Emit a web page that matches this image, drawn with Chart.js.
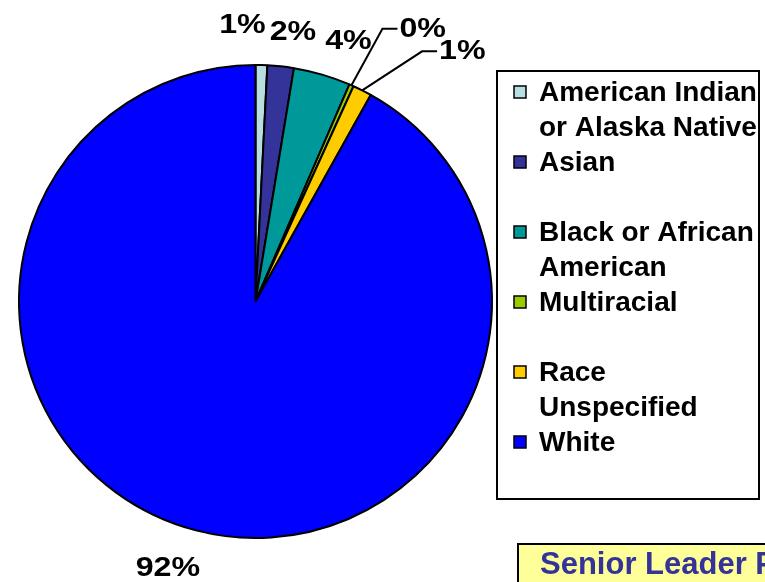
<!DOCTYPE html>
<html>
<head>
<meta charset="utf-8">
<script src="https://cdn.jsdelivr.net/npm/chart.js@4.4.1/dist/chart.umd.min.js"></script>
<style>
  html, body { margin: 0; padding: 0; background: #fff; }
  #wrap { width: 765px; height: 582px; position: relative; }
</style>
</head>
<body>
<div id="wrap"><canvas id="pie" width="765" height="582"></canvas></div>
<script>
// data (percent of senior leaders)
var categories = ['American Indian or Alaska Native', 'Asian', 'Black or African American',
                  'Multiracial', 'Race Unspecified', 'White'];
var shares = [0.8, 1.8, 3.9, 0.3, 1.3, 91.9];
var colors = ['#B7DEE0', '#333399', '#009999', '#99CC00', '#FFCC00', '#0000FF'];

var FONT = "'Liberation Sans', Arial, sans-serif";

// label tweaks: nudge from default spot, and whether to draw a leader line
var labelStyle = [
  { nudge: [-20, 0] },
  { nudge: [8, 6] },
  { nudge: [15, 5] },
  { nudge: [5, 2], leader: true },
  { nudge: [31, 18], leader: true },
  { nudge: [-18, -1] }
];

function wrap(ctx, text, maxW) {
  var words = text.split(' '), lines = [], cur = '';
  words.forEach(function (w) {
    var t = cur ? cur + ' ' + w : w;
    if (cur && ctx.measureText(t).width > maxW) { lines.push(cur); cur = w; }
    else cur = t;
  });
  lines.push(cur);
  return lines;
}

// the original labels are a bit wide, so stretch them sideways
function wideText(ctx, txt, x, y, align) {
  ctx.save();
  ctx.translate(x, y);
  ctx.scale(1.15, 1);
  ctx.textAlign = align;
  ctx.textBaseline = 'middle';
  ctx.fillText(txt, 0, 0);
  ctx.restore();
}

var pctLabels = {
  id: 'pctLabels',
  afterDatasetsDraw: function (chart) {
    var ctx = chart.ctx;
    var meta = chart.getDatasetMeta(0);
    var total = shares.reduce(function (a, b) { return a + b; }, 0);
    ctx.save();
    ctx.font = 'bold 28px ' + FONT;
    ctx.fillStyle = '#000';
    ctx.strokeStyle = '#000';
    ctx.lineWidth = 2;
    meta.data.forEach(function (arc, i) {
      var p = arc.getProps(['x', 'y', 'startAngle', 'endAngle', 'outerRadius'], true);
      var mid = (p.startAngle + p.endAngle) / 2;
      var st = labelStyle[i];
      var txt = Math.round(shares[i] / total * 100) + '%';
      if (st.leader) {
        var ex = p.x + Math.cos(mid) * (p.outerRadius + 64) + st.nudge[0];
        var ey = p.y + Math.sin(mid) * (p.outerRadius + 64) + st.nudge[1];
        ctx.beginPath();
        ctx.moveTo(p.x + Math.cos(mid) * p.outerRadius, p.y + Math.sin(mid) * p.outerRadius);
        ctx.lineTo(ex, ey);
        ctx.lineTo(ex + 15, ey);
        ctx.stroke();
        wideText(ctx, txt, ex + 17, ey, 'left');
      } else {
        var lx = p.x + Math.cos(mid) * (p.outerRadius + 40) + st.nudge[0];
        var ly = p.y + Math.sin(mid) * (p.outerRadius + 40) + st.nudge[1];
        wideText(ctx, txt, lx, ly, 'center');
      }
    });
    ctx.restore();
  }
};

var sideBoxes = {
  id: 'sideBoxes',
  afterDraw: function (chart) {
    var ctx = chart.ctx;
    ctx.save();
    // legend box
    ctx.strokeStyle = '#000';
    ctx.lineWidth = 2;
    ctx.strokeRect(497, 71, 262, 428);
    ctx.font = 'bold 28px ' + FONT;
    ctx.textAlign = 'left';
    ctx.textBaseline = 'alphabetic';
    categories.forEach(function (c, i) {
      var cy = 92 + i * 70;
      ctx.fillStyle = colors[i];
      ctx.fillRect(514, cy - 6, 12, 12);
      ctx.lineWidth = 1.5;
      ctx.strokeRect(514, cy - 6, 12, 12);
      ctx.fillStyle = '#000';
      wrap(ctx, c, 225).forEach(function (ln, k) {
        ctx.fillText(ln, 539, cy + 9 + k * 35);
      });
    });
    // yellow caption box, runs off the page edge
    ctx.fillStyle = '#FFFF99';
    ctx.fillRect(518, 544, 260, 50);
    ctx.lineWidth = 2;
    ctx.strokeRect(518, 544, 260, 50);
    ctx.fillStyle = '#333399';
    ctx.font = 'bold 31px ' + FONT;
    ctx.fillText('Senior Leader Profile', 540, 574);
    ctx.restore();
  }
};

new Chart(document.getElementById('pie'), {
  type: 'pie',
  data: {
    labels: categories,
    datasets: [{
      data: shares,
      backgroundColor: colors,
      borderColor: '#000',
      borderWidth: 2
    }]
  },
  options: {
    responsive: false,
    animation: false,
    layout: { padding: { left: 18, top: 64, right: 272, bottom: 43 } },
    plugins: {
      legend: { display: false },
      tooltip: { enabled: false }
    }
  },
  plugins: [pctLabels, sideBoxes]
});
</script>
</body>
</html>
